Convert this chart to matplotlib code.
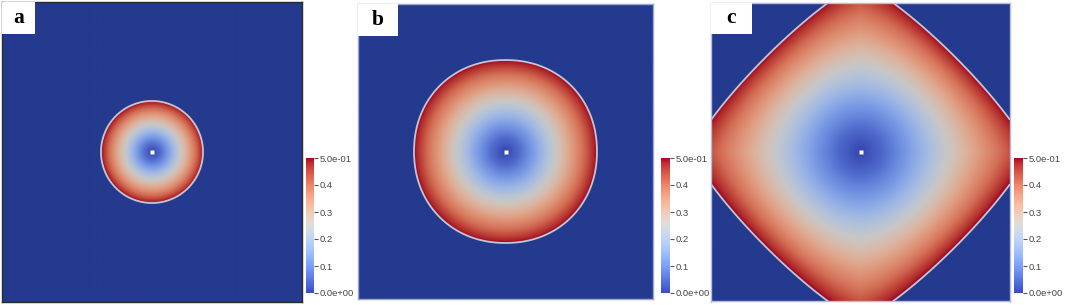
import numpy as np
import matplotlib
matplotlib.use("Agg")
import matplotlib.pyplot as plt
from matplotlib.patches import Rectangle
from matplotlib.colors import ListedColormap, Normalize
from matplotlib.cm import ScalarMappable

# panel settings: front radius (in half-widths) and shape exponent of the front
panel_labels = ["a", "b", "c"]
front_radius = [0.34, 0.62, 1.13]
front_power = [2.0, 2.1, 1.2]
# radius used for the round inner part of the field
inner_radius = [0.34, 0.62, 1.05]

# radial profile of the field (s = r / front radius)
profile_s = [0.0, 0.15, 0.30, 0.45, 0.60, 0.75, 0.85, 0.93, 1.0]
profile_v = [0.0, 0.05, 0.12, 0.20, 0.28, 0.36, 0.41, 0.46, 0.50]

cbar_ticks = [0.0, 0.1, 0.2, 0.3, 0.4, 0.5]
cbar_labels = ["0.0e+00", "0.1", "0.2", "0.3", "0.4", "5.0e-01"]

W, H = 1065, 305
fig = plt.figure(figsize=(W / 100, H / 100), dpi=100)

def px_rect(x0, y0, x1, y1):
    return [x0 / W, 1 - y1 / H, (x1 - x0) / W, (y1 - y0) / H]

axes_px = [(2, 2, 302, 302), (357, 4, 654, 299), (711, 2, 1010, 302)]
cbar_px = [(306, 158, 314, 293), (661, 158, 670, 293), (1014, 158, 1023, 293)]
box_w = [33, 40, 41]
frame_col = ["#2a2a2a", "#9aa6d6", "#b4bcdc"]

base = plt.get_cmap("coolwarm")
# the rendered surface looks a bit darker than the colour bar (shading)
shaded = base(np.linspace(0, 1, 256))
shaded[:, :3] *= 0.9
field_cmap = ListedColormap(shaded)
field_cmap.set_bad("#243a8e")

n = 500
g = np.linspace(-1, 1, n)
X, Y = np.meshgrid(g, g)

for i in range(3):
    ax = fig.add_axes(px_rect(*axes_px[i]))
    p = front_power[i]
    s_front = (np.abs(X) ** p + np.abs(Y) ** p) ** (1 / p) / front_radius[i]
    s_round = np.hypot(X, Y) / inner_radius[i]
    t = np.clip(s_front, 0, 1) ** 2
    s = (1 - t) * s_round + t * s_front
    v = np.interp(s, profile_s, profile_v)
    field = np.ma.masked_where(s_front > 1, v)
    ax.imshow(field, cmap=field_cmap, vmin=0, vmax=0.5, extent=[-1, 1, -1, 1],
              origin="lower", interpolation="bilinear")
    ax.contour(X, Y, s_front, levels=[1.0], colors="#c4c6d2", linewidths=1.3)
    ax.plot(0, 0, marker="s", color="white", markersize=2.2, mec="none")
    ax.set_xlim(-1, 1)
    ax.set_ylim(-1, 1)
    ax.set_xticks([])
    ax.set_yticks([])
    for sp in ax.spines.values():
        sp.set_color(frame_col[i])
        sp.set_linewidth(1.0)

    # label box in the top-left corner
    x0, y0, x1, y1 = axes_px[i]
    bw = box_w[i] / (x1 - x0)
    bh = 32 / (y1 - y0)
    ax.add_patch(Rectangle((0, 1 - bh), bw, bh, transform=ax.transAxes,
                           facecolor="white", edgecolor="none", zorder=5))
    ax.text(bw / 2, 1 - bh / 2, panel_labels[i], transform=ax.transAxes,
            ha="center", va="center", fontsize=15.5, fontweight="bold",
            family="Liberation Serif", zorder=6)

    cax = fig.add_axes(px_rect(*cbar_px[i]))
    sm = ScalarMappable(norm=Normalize(0, 0.5), cmap=base)
    cb = fig.colorbar(sm, cax=cax, ticks=cbar_ticks)
    cb.outline.set_visible(False)
    cb.ax.set_yticklabels(cbar_labels)
    cb.ax.tick_params(length=3, width=0.8, color="#555555", labelsize=6.8,
                      labelcolor="#444444", pad=1)
    for lab in cb.ax.get_yticklabels():
        lab.set_family("Liberation Sans")

fig.savefig("out.png", dpi=100)
